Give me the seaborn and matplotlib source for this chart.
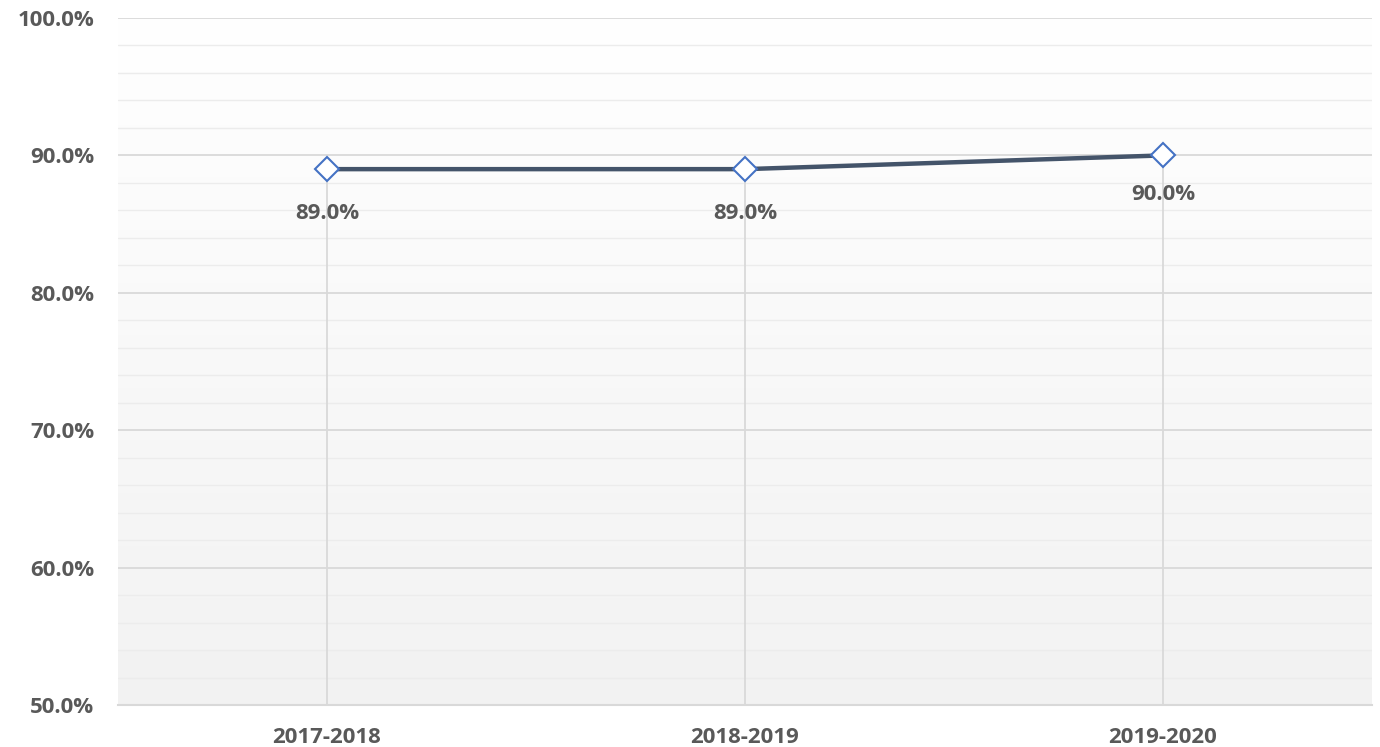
import numpy as np
import pandas as pd
import matplotlib
matplotlib.use("Agg")
import matplotlib.pyplot as plt
import seaborn as sns
from matplotlib.ticker import MultipleLocator, FuncFormatter
from matplotlib.colors import LinearSegmentedColormap

categories = ["2017-2018", "2018-2019", "2019-2020"]
values = [89.0, 89.0, 90.0]
label_offsets = [-32, -32, -28]

sns.set_theme(style="white")
plt.rcParams['font.family'] = ['Open Sans', 'DejaVu Sans']

fig = plt.figure(figsize=(13.8, 7.47), dpi=100)
ax = fig.add_axes([118/1380, 1-705/747, (1372-118)/1380, (705-18)/747])

df = pd.DataFrame({"period": categories, "value": values})
x = np.arange(len(categories))

# gradient background: white at top, light gray at bottom
cmap = LinearSegmentedColormap.from_list("bg", ["#ffffff", "#f2f2f2"])
grad = np.linspace(0, 1, 256).reshape(-1, 1)
ax.imshow(grad, aspect="auto", cmap=cmap, extent=[-0.5, 2.5, 50, 100], origin="upper", zorder=0)

ax.set_xlim(-0.5, 2.5)
ax.set_ylim(50, 100)

ax.yaxis.set_major_locator(MultipleLocator(10))
ax.yaxis.set_minor_locator(MultipleLocator(2))
ax.grid(which="major", axis="y", color="#d9d9d9", linewidth=1.3, zorder=1)
ax.grid(which="minor", axis="y", color="#ececec", linewidth=1.0, zorder=1)
ax.vlines(x, 50, values, color="#d9d9d9", linewidth=1.3, zorder=1)

sns.lineplot(data=df, x="period", y="value", ax=ax, color="#44546a", linewidth=3.2,
             marker="D", markersize=12, markerfacecolor="white",
             markeredgecolor="#4472c4", markeredgewidth=1.5, zorder=3)

for xi, v, off in zip(x, values, label_offsets):
    ax.annotate(f"{v:.1f}%", (xi, v), xytext=(0, off), textcoords="offset points",
                ha="center", va="center", fontsize=16, fontweight="bold", color="#595959")

ax.yaxis.set_major_formatter(FuncFormatter(lambda v, p: f"{v:.1f}%"))
ax.set_xticks(x)
ax.set_xticklabels(categories)
ax.tick_params(axis="both", which="both", length=0, labelsize=16, labelcolor="#595959")
for lab in ax.get_xticklabels() + ax.get_yticklabels():
    lab.set_fontweight("bold")
ax.tick_params(axis="y", pad=17)
ax.tick_params(axis="x", pad=16)
ax.set_xlabel("")
ax.set_ylabel("")
for s in ["top", "right", "left"]:
    ax.spines[s].set_visible(False)
ax.spines["bottom"].set_color("#d9d9d9")
ax.spines["bottom"].set_linewidth(1.5)

fig.savefig("out.png", dpi=100)
